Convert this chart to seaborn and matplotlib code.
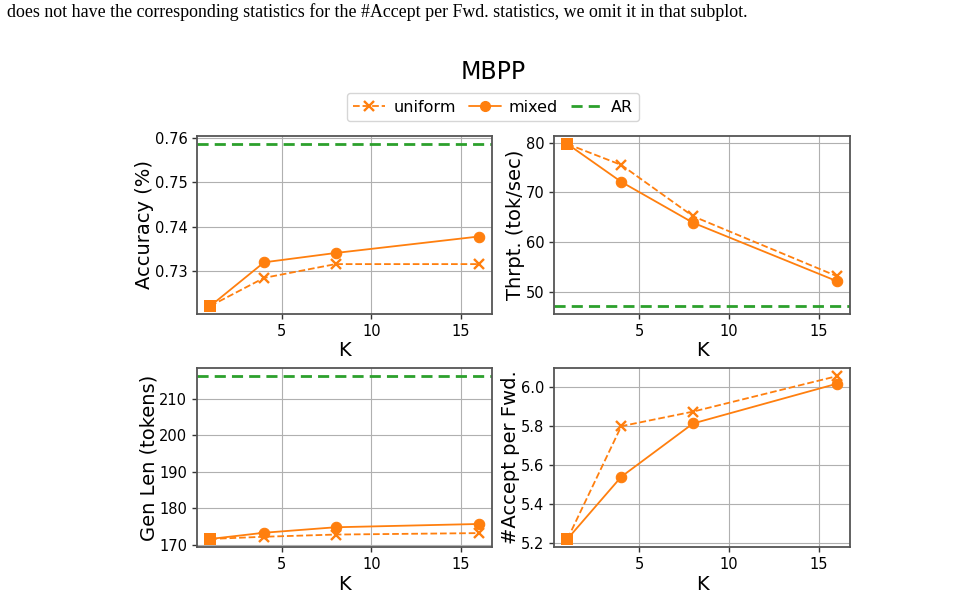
import matplotlib
matplotlib.use("Agg")
import matplotlib.pyplot as plt
import seaborn as sns
from matplotlib.lines import Line2D

# ---------------- data ----------------
K = [1, 4, 8, 16]

acc_uniform = [0.7222, 0.7285, 0.7316, 0.7316]
acc_mixed = [0.7222, 0.7320, 0.7341, 0.7378]
acc_ar = 0.7586

thr_uniform = [79.7, 75.5, 65.2, 53.2]
thr_mixed = [79.7, 72.1, 63.9, 52.2]
thr_ar = 47.2

len_uniform = [171.6, 172.2, 172.8, 173.2]
len_mixed = [171.6, 173.3, 174.8, 175.7]
len_ar = 216.2

acc_fwd_uniform = [5.22, 5.80, 5.875, 6.057]
acc_fwd_mixed = [5.22, 5.54, 5.814, 6.018]

ylabels = ["Accuracy (%)", "Thrpt. (tok/sec)", "Gen Len (tokens)", "#Accept per Fwd."]
yticks = [[0.73, 0.74, 0.75, 0.76], [50, 60, 70, 80], [170, 180, 190, 200, 210],
          [5.2, 5.4, 5.6, 5.8, 6.0]]
xticks = [5, 10, 15]
title = "MBPP"
legend_labels = ["uniform", "mixed", "AR"]
top_text = ("does not have the corresponding statistics for the #Accept per Fwd. "
            "statistics, we omit it in that subplot.")

# ---------------- style ----------------
sns.set_style("ticks")
plt.rcParams.update({
    "axes.grid": True,
    "grid.color": "#b0b0b0",
    "grid.linewidth": 0.8,
    "axes.edgecolor": "#555555",
    "axes.linewidth": 1.3,
    "xtick.color": "#333333",
    "ytick.color": "#333333",
    "xtick.labelcolor": "black",
    "ytick.labelcolor": "black",
    "axes.labelcolor": "black",
    "text.color": "black",
})
plt.rcParams["font.family"] = ["DejaVu Sans"]

C_OR = "#ff7f0e"
C_GR = "#2ca02c"

fig = plt.figure(figsize=(9.61, 6.14), dpi=100)

positions = [
    [0.205, 0.4886, 0.307, 0.290],
    [0.5765, 0.4886, 0.308, 0.290],
    [0.205, 0.109, 0.307, 0.2915],
    [0.5765, 0.109, 0.308, 0.2915],
]

series = [
    (acc_uniform, acc_mixed, acc_ar),
    (thr_uniform, thr_mixed, thr_ar),
    (len_uniform, len_mixed, len_ar),
    (acc_fwd_uniform, acc_fwd_mixed, None),
]

for i, (pos, (u, m, ar)) in enumerate(zip(positions, series)):
    ax = fig.add_axes(pos)
    sns.lineplot(x=K, y=u, ax=ax, color=C_OR, linestyle="--", linewidth=1.3,
                 marker="x", markersize=7, markeredgewidth=1.7,
                 markeredgecolor=C_OR, markevery=[1, 2, 3])
    sns.lineplot(x=K, y=m, ax=ax, color=C_OR, linestyle="-", linewidth=1.3,
                 marker="o", markersize=7.5, markeredgewidth=0.8,
                 markeredgecolor=C_OR, markevery=[1, 2, 3])
    sns.scatterplot(x=[K[0]], y=[m[0]], ax=ax, color=C_OR, marker="s", s=70,
                    edgecolor=C_OR, linewidth=0, zorder=4)
    if ar is not None:
        ax.axhline(ar, color=C_GR, linestyle="--", linewidth=2, dashes=(4, 2.2))
    ax.set_yticks(yticks[i])
    ax.set_xticks(xticks)
    ax.tick_params(labelsize=10.5, length=3.5, width=1)
    ax.set_ylabel(ylabels[i], fontsize=14, labelpad=0.5)
    ax.set_xlabel("K", fontsize=14, labelpad=2)
    ax.grid(True, color="#b0b0b0", linewidth=0.8)
    ax.set_axisbelow(True)
    if ax.get_legend() is not None:
        ax.get_legend().remove()

fig.text(0.513, 0.883, title, fontsize=17, ha="center", va="center")

handles = [
    Line2D([], [], color=C_OR, linestyle="--", marker="x", markersize=7,
           markeredgewidth=1.7, linewidth=1.3),
    Line2D([], [], color=C_OR, linestyle="-", marker="o", markersize=7, linewidth=1.3),
    Line2D([], [], color=C_GR, linestyle="--", linewidth=2, dashes=(4, 2.2)),
]
fig.legend(handles, legend_labels, loc="center", bbox_to_anchor=(0.513, 0.8255),
           ncol=3, fontsize=11.5, frameon=True, handlelength=2.0,
           columnspacing=0.8, handletextpad=0.5, borderpad=0.4)

fig.text(0.007, 0.98, top_text, fontsize=12.9, ha="left", va="center",
         family=["Liberation Serif", "DejaVu Serif"])

fig.savefig("out.png", dpi=100)
